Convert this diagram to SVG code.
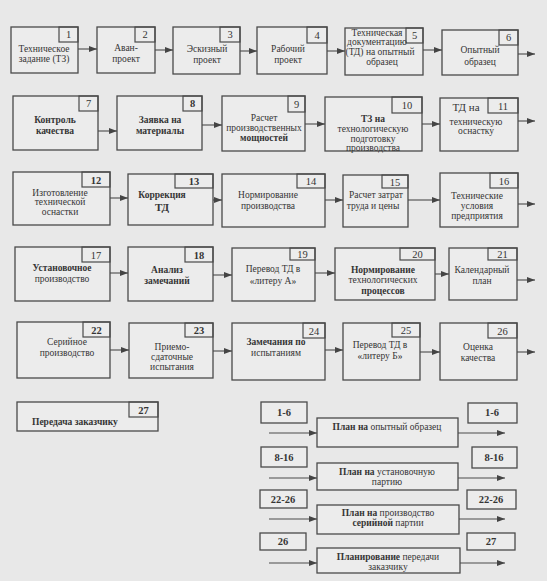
<svg xmlns="http://www.w3.org/2000/svg" width="547" height="581" viewBox="0 0 547 581">
  <defs>
    <marker id="arr" viewBox="0 0 8 6" refX="8" refY="3" markerWidth="8" markerHeight="6" markerUnits="userSpaceOnUse" orient="auto">
      <path d="M0,0 L8,3 L0,6 Z" fill="#444"/>
    </marker>
    <style>
      .bx{fill:#ececec;stroke:#4a4a4a;stroke-width:1.3}
      .nb{fill:none;stroke:#4a4a4a;stroke-width:1.2}
      .t{font-family:"Liberation Serif","Times New Roman",serif;font-size:9.5px;fill:#353535;text-anchor:middle}
      .b{font-weight:bold}
      .n{font-family:"Liberation Serif","Times New Roman",serif;font-size:10.5px;fill:#353535;text-anchor:middle}
      .c line{stroke:#4a4a4a;stroke-width:1.1;marker-end:url(#arr)}
    </style>
  </defs>
  <rect width="547" height="581" fill="#e8e8e8"/>

  <!-- row 1 -->
  <g id="n1"><rect class="bx" x="11" y="27" width="67" height="46"/><rect class="nb" x="59" y="27" width="19" height="15"/><text class="n" x="68.5" y="38">1</text>
    <text class="t" x="44" y="52">Техническое</text><text class="t" x="44" y="62">задание (ТЗ)</text></g>
  <g id="n2"><rect class="bx" x="97" y="27" width="58" height="46"/><rect class="nb" x="135" y="27" width="20" height="15"/><text class="n" x="145" y="38">2</text>
    <text class="t" x="126" y="51">Аван-</text><text class="t" x="126" y="62">проект</text></g>
  <g id="n3"><rect class="bx" x="173" y="27" width="67" height="47"/><rect class="nb" x="220" y="27" width="20" height="15"/><text class="n" x="230" y="38">3</text>
    <text class="t" x="207" y="52">Эскизный</text><text class="t" x="207" y="63">проект</text></g>
  <g id="n4"><rect class="bx" x="257" y="27" width="70" height="47"/><rect class="nb" x="307" y="27" width="20" height="16"/><text class="n" x="317" y="39">4</text>
    <text class="t" x="288" y="52">Рабочий</text><text class="t" x="288" y="63">проект</text></g>
  <g id="n5"><rect class="bx" x="345" y="28" width="78" height="47"/><rect class="nb" x="406" y="28" width="17" height="15"/><text class="n" x="414.5" y="39">5</text>
    <text class="t" x="377" y="36">Техническая</text><text class="t" x="377" y="45">документацию</text><text class="t" x="380" y="55">(ТД) на опытный</text><text class="t" x="382" y="65">образец</text></g>
  <g id="n6"><rect class="bx" x="442" y="30" width="76" height="45"/><rect class="nb" x="499" y="30" width="19" height="15"/><text class="n" x="508.5" y="41">6</text>
    <text class="t" x="480" y="53">Опытный</text><text class="t" x="480" y="65">образец</text></g>

  <!-- row 2 -->
  <g id="n7"><rect class="bx" x="13" y="96" width="85" height="54"/><rect class="nb" x="79" y="96" width="19" height="15"/><text class="n" x="88.5" y="107">7</text>
    <text class="t b" x="55" y="123">Контроль</text><text class="t b" x="55" y="134">качества</text></g>
  <g id="n8"><rect class="bx" x="117" y="96" width="85" height="54"/><rect class="nb" x="183" y="96" width="19" height="15"/><text class="n b" x="192.5" y="107">8</text>
    <text class="t b" x="160" y="123">Заявка на</text><text class="t b" x="160" y="134">материалы</text></g>
  <g id="n9"><rect class="bx" x="222" y="96" width="83" height="55"/><rect class="nb" x="288" y="96" width="17" height="16"/><text class="n" x="296.5" y="108">9</text>
    <text class="t" x="264" y="121">Расчет</text><text class="t" x="264" y="131">производственных</text><text class="t b" x="264" y="141">мощностей</text></g>
  <g id="n10"><rect class="bx" x="325" y="97" width="97" height="54"/><rect class="nb" x="392" y="97" width="30" height="16"/><text class="n" x="407" y="109">10</text>
    <text class="t b" x="373" y="122">ТЗ на</text><text class="t" x="373" y="132">технологическую</text><text class="t" x="373" y="142">подготовку</text><text class="t" x="373" y="151">производства</text></g>
  <g id="n11"><rect class="bx" x="440" y="98" width="78" height="53"/><rect class="nb" x="488" y="98" width="30" height="15"/><text class="n" x="503" y="110">11</text>
    <text class="t" x="466" y="111" style="font-size:11px">ТД на</text><text class="t" x="476" y="125">техническую</text><text class="t" x="476" y="134">оснастку</text></g>

  <!-- row 3 -->
  <g id="n12"><rect class="bx" x="13" y="172" width="97" height="53"/><rect class="nb" x="82" y="172" width="28" height="15"/><text class="n b" x="96" y="184">12</text>
    <text class="t" x="60" y="196">Изготовление</text><text class="t" x="60" y="205">технической</text><text class="t" x="60" y="215">оснастки</text></g>
  <g id="n13"><rect class="bx" x="128" y="174" width="85" height="51"/><rect class="nb" x="175" y="174" width="38" height="14"/><text class="n b" x="194" y="185">13</text>
    <text class="t b" x="162" y="198">Коррекция</text><text class="t b" x="162" y="211" style="font-size:11px">ТД</text></g>
  <g id="n14"><rect class="bx" x="222" y="174" width="103" height="53"/><rect class="nb" x="297" y="174" width="28" height="14"/><text class="n" x="311" y="185">14</text>
    <text class="t" x="268" y="198">Нормирование</text><text class="t" x="268" y="209">производства</text></g>
  <g id="n15"><rect class="bx" x="343" y="175" width="65" height="52"/><rect class="nb" x="382" y="175" width="26" height="13"/><text class="n" x="395" y="186">15</text>
    <text class="t" x="376" y="198">Расчет затрат</text><text class="t" x="373" y="209">труда и цены</text></g>
  <g id="n16"><rect class="bx" x="440" y="173" width="78" height="54"/><rect class="nb" x="490" y="173" width="28" height="15"/><text class="n" x="504" y="185">16</text>
    <text class="t" x="477" y="199">Технические</text><text class="t" x="477" y="209">условия</text><text class="t" x="477" y="219">предприятия</text></g>

  <!-- row 4 -->
  <g id="n17"><rect class="bx" x="15" y="247" width="95" height="54"/><rect class="nb" x="82" y="247" width="28" height="15"/><text class="n" x="96" y="259">17</text>
    <text class="t b" x="62" y="271">Установочное</text><text class="t" x="62" y="282">производство</text></g>
  <g id="n18"><rect class="bx" x="128" y="247" width="85" height="54"/><rect class="nb" x="185" y="247" width="28" height="15"/><text class="n b" x="199" y="259">18</text>
    <text class="t b" x="167" y="273">Анализ</text><text class="t b" x="167" y="284">замечаний</text></g>
  <g id="n19"><rect class="bx" x="232" y="248" width="83" height="53"/><rect class="nb" x="290" y="248" width="25" height="12"/><text class="n" x="302.5" y="258">19</text>
    <text class="t" x="273" y="272">Перевод ТД в</text><text class="t" x="273" y="284">«литеру А»</text></g>
  <g id="n20"><rect class="bx" x="335" y="248" width="100" height="52"/><rect class="nb" x="400" y="248" width="35" height="12"/><text class="n" x="417.5" y="258">20</text>
    <text class="t b" x="383" y="273">Нормирование</text><text class="t" x="383" y="283">технологических</text><text class="t b" x="383" y="294">процессов</text></g>
  <g id="n21"><rect class="bx" x="449" y="248" width="68" height="52"/><rect class="nb" x="488" y="248" width="29" height="12"/><text class="n" x="502.5" y="258">21</text>
    <text class="t" x="482" y="273">Календарный</text><text class="t" x="482" y="284">план</text></g>

  <!-- row 5 -->
  <g id="n22"><rect class="bx" x="17" y="322" width="93" height="56"/><rect class="nb" x="83" y="322" width="27" height="15"/><text class="n b" x="96.5" y="334">22</text>
    <text class="t" x="67" y="345">Серийное</text><text class="t" x="67" y="356">производство</text></g>
  <g id="n23"><rect class="bx" x="129" y="323" width="84" height="55"/><rect class="nb" x="185" y="323" width="28" height="14"/><text class="n b" x="199" y="334">23</text>
    <text class="t" x="172" y="350">Приемо-</text><text class="t" x="172" y="360">сдаточные</text><text class="t" x="172" y="370">испытания</text></g>
  <g id="n24"><rect class="bx" x="232" y="323" width="93" height="57"/><rect class="nb" x="303" y="323" width="22" height="15"/><text class="n" x="314" y="335">24</text>
    <text class="t b" x="276" y="345">Замечания по</text><text class="t" x="276" y="356">испытаниям</text></g>
  <g id="n25"><rect class="bx" x="343" y="323" width="77" height="57"/><rect class="nb" x="392" y="323" width="28" height="14"/><text class="n" x="406" y="334">25</text>
    <text class="t" x="380" y="348">Перевод ТД в</text><text class="t" x="380" y="359">«литеру Б»</text></g>
  <g id="n26"><rect class="bx" x="440" y="323" width="77" height="57"/><rect class="nb" x="488" y="323" width="29" height="15"/><text class="n" x="502.5" y="335">26</text>
    <text class="t" x="478" y="350">Оценка</text><text class="t" x="478" y="361">качества</text></g>

  <!-- row 6 -->
  <g id="n27"><rect class="bx" x="17" y="402" width="141" height="29"/><rect class="nb" x="129" y="402" width="29" height="15"/><text class="n b" x="143.5" y="414">27</text>
    <text class="t b" x="32" y="425" style="text-anchor:start">Передача заказчику</text></g>

  <!-- planning blocks -->
  <g id="r16a"><rect class="bx" x="261" y="402" width="46" height="21"/><text class="n b" x="284" y="416">1-6</text></g>
  <g id="r16b"><rect class="bx" x="468" y="403" width="49" height="20"/><text class="n b" x="492" y="416">1-6</text></g>
  <g id="p1"><rect class="bx" x="317" y="418" width="141" height="29"/><text class="t" x="387" y="430"><tspan font-weight="bold">План на </tspan>опытный образец</text></g>
  <g id="r816a"><rect class="bx" x="261" y="447" width="46" height="20"/><text class="n b" x="284" y="461">8-16</text></g>
  <g id="r816b"><rect class="bx" x="472" y="447" width="45" height="21"/><text class="n b" x="494" y="461">8-16</text></g>
  <g id="p2"><rect class="bx" x="317" y="463" width="141" height="27"/><text class="t" x="387" y="475"><tspan font-weight="bold">План на </tspan>установочную</text><text class="t" x="387" y="485">партию</text></g>
  <g id="r2226a"><rect class="bx" x="260" y="490" width="47" height="18"/><text class="n b" x="283" y="503">22-26</text></g>
  <g id="r2226b"><rect class="bx" x="467" y="490" width="49" height="19"/><text class="n b" x="491" y="503">22-26</text></g>
  <g id="p3"><rect class="bx" x="317" y="505" width="142" height="29"/><text class="t" x="388" y="516"><tspan font-weight="bold">План на </tspan>производство</text><text class="t" x="388" y="526"><tspan font-weight="bold">серийной </tspan>партии</text></g>
  <g id="r26"><rect class="bx" x="260" y="533" width="46" height="17"/><text class="n b" x="283" y="545">26</text></g>
  <g id="r27"><rect class="bx" x="467" y="533" width="48" height="17"/><text class="n b" x="491" y="545">27</text></g>
  <g id="p4"><rect class="bx" x="317" y="548" width="143" height="25"/><text class="t" x="388" y="560"><tspan font-weight="bold">Планирование </tspan>передачи</text><text class="t" x="388" y="570">заказчику</text></g>

  <!-- connectors -->
  <g id="connectors" class="c">
    <line x1="78" y1="49" x2="97" y2="49"/>
    <line x1="155" y1="50" x2="173" y2="50"/>
    <line x1="240" y1="51" x2="257" y2="51"/>
    <line x1="327" y1="51" x2="345" y2="51"/>
    <line x1="423" y1="50" x2="442" y2="50"/>
    <line x1="518" y1="54" x2="535" y2="54"/>

    <line x1="98" y1="131" x2="117" y2="131"/>
    <line x1="202" y1="125" x2="222" y2="125"/>
    <line x1="305" y1="124" x2="325" y2="124"/>
    <line x1="422" y1="124" x2="440" y2="124"/>
    <line x1="518" y1="121" x2="535" y2="121"/>

    <line x1="110" y1="198" x2="128" y2="198"/>
    <line x1="213" y1="200" x2="222" y2="200"/>
    <line x1="325" y1="200" x2="343" y2="200"/>
    <line x1="408" y1="200" x2="440" y2="200"/>
    <line x1="518" y1="204" x2="535" y2="204"/>

    <line x1="110" y1="273" x2="128" y2="273"/>
    <line x1="213" y1="275" x2="232" y2="275"/>
    <line x1="315" y1="273" x2="335" y2="273"/>
    <line x1="435" y1="274" x2="449" y2="274"/>
    <line x1="517" y1="280" x2="535" y2="280"/>

    <line x1="110" y1="350" x2="129" y2="350"/>
    <line x1="213" y1="351" x2="232" y2="351"/>
    <line x1="325" y1="350" x2="343" y2="350"/>
    <line x1="420" y1="352" x2="440" y2="352"/>
    <line x1="517" y1="352" x2="535" y2="352"/>

    <line x1="269" y1="433" x2="317" y2="433"/>
    <line x1="458" y1="433" x2="505" y2="433"/>
    <line x1="269" y1="478" x2="317" y2="478"/>
    <line x1="458" y1="478" x2="505" y2="478"/>
    <line x1="269" y1="519" x2="317" y2="519"/>
    <line x1="459" y1="519" x2="505" y2="519"/>
    <line x1="269" y1="563" x2="317" y2="563"/>
    <line x1="460" y1="563" x2="505" y2="563"/>
  </g>
</svg>
